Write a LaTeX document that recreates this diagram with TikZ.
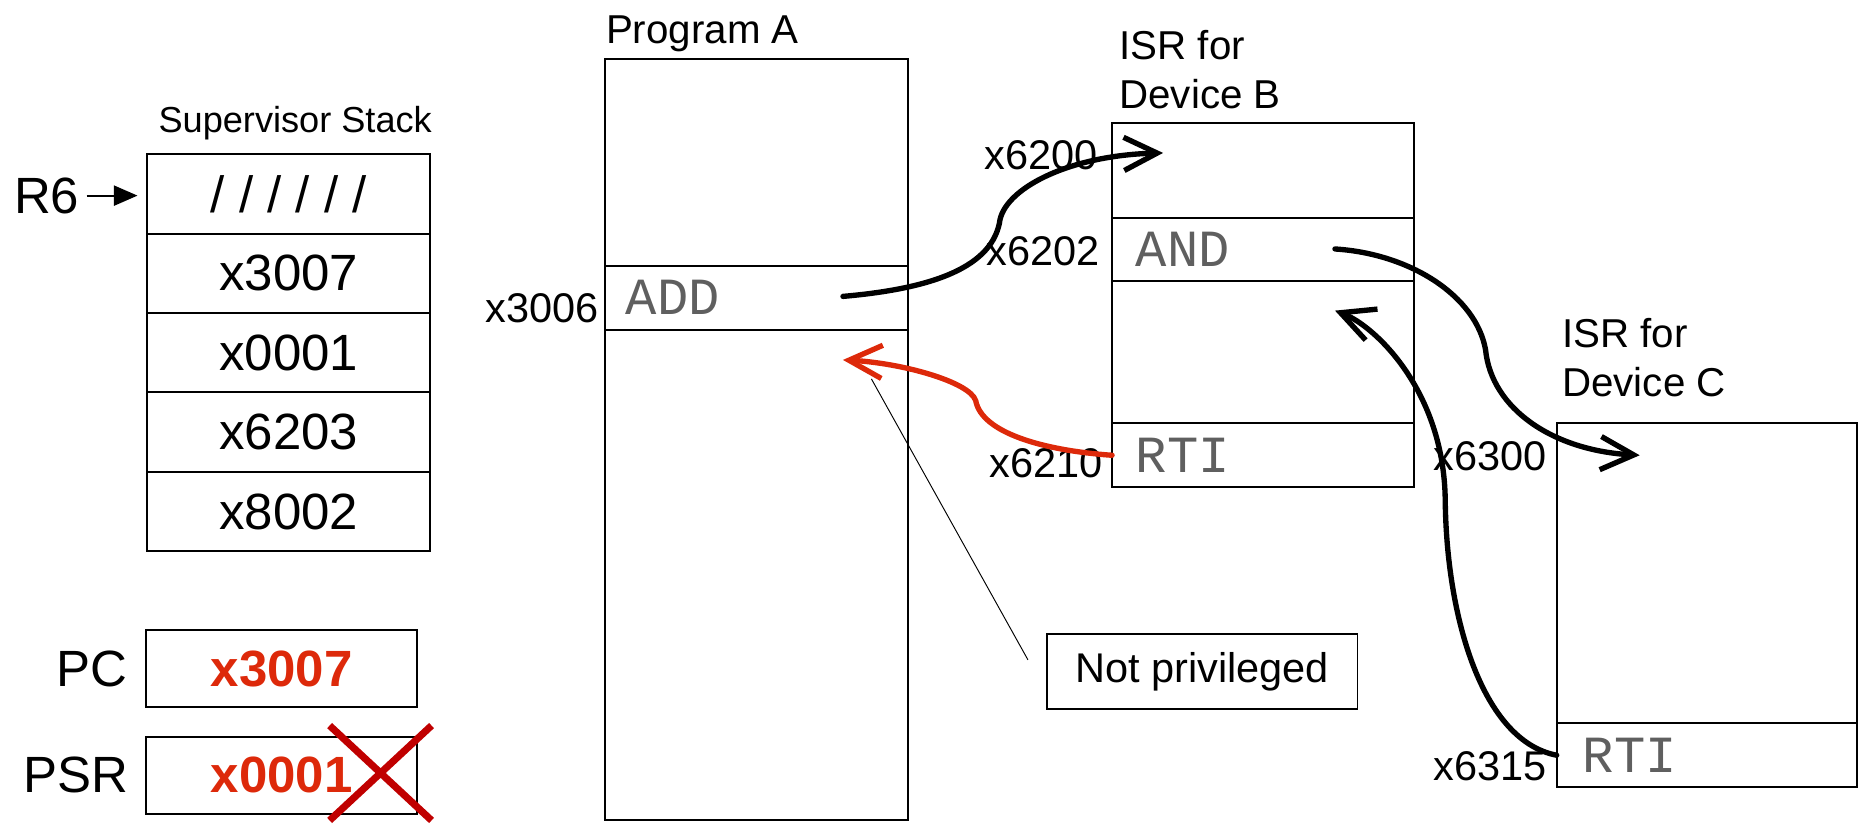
\documentclass[tikz,border=0pt]{standalone}
\usepackage{fontspec}
\setmainfont{Liberation Sans}
\newfontfamily\monofont{Liberation Mono}
\usepackage{xcolor}
\usetikzlibrary{arrows.meta, positioning, calc}

\definecolor{rosso}{RGB}{221,41,10}
\definecolor{rossoscuro}{RGB}{192,0,0}
\definecolor{grigio}{RGB}{95,95,95}

\tikzset{
    cella/.style={draw, line width=1.6pt, outer sep=0pt, inner sep=0pt, minimum width=239pt, minimum height=67pt, font=\fontsize{43}{50}\selectfont},
    registro/.style={cella, minimum width=228pt, minimum height=65pt, text=rosso, font=\fontsize{43}{50}\selectfont\bfseries},
    riga/.style={draw, line width=1.6pt, outer sep=0pt, inner ysep=0pt, inner xsep=18pt, text width=220pt, minimum height=#1, align=left, text=grigio, font=\fontsize{44}{50}\monofont},
    indirizzo/.style={inner sep=0pt, anchor=east, font=\fontsize{35}{42}\selectfont},
    titolo/.style={inner sep=0pt, anchor=base west, align=left, font=\fontsize{34}{41.5}\selectfont},
    salto/.style={line width=4.5pt, line cap=round, line join=round, -{Straight Barb[length=28pt, width=28pt]}},
}

\begin{document}
\begin{tikzpicture}[x=1pt, y=-1pt]
    \useasboundingbox (0,0) rectangle (1568,695);

    % Supervisor Stack
    \node[inner sep=0pt, anchor=base, font=\fontsize{30.5}{36}\selectfont] (tstack) at (249,112) {Supervisor Stack};
    \node[cella] (s0) at (243.5,163.5) {/ / / / / /};
    \foreach \v [count=\i, remember=\i as \j (initially 0)] in {x3007,x0001,x6203,x8002} {
        \node[cella, below=0pt of s\j] (s\i) {\v};
    }
    \node[inner sep=0pt, anchor=east, font=\fontsize{43}{50}\selectfont] (r6) at (67,165) {R6};
    \draw[line width=1.6pt, -{Triangle[length=20pt, width=17pt]}, shorten <=6pt, shorten >=8pt] (r6.east) -- (r6.east -| s0.west);

    % Registri PC e PSR
    \node[registro] (pc) at (237.5,564) {x3007};
    \node[registro] (psr) at (237.5,654) {x0001};
    \node[inner sep=0pt, left=16pt of pc, font=\fontsize{43}{50}\selectfont] (lpc) {PC};
    \node[inner sep=0pt, left=15pt of psr, font=\fontsize{43}{50}\selectfont] (lpsr) {PSR};
    \coordinate (croce) at ($(psr.east)+(-30.5,-2)$);
    \draw[rossoscuro, line width=6pt] ($(croce)+(-43,-40)$) -- ($(croce)+(43,40)$)
        ($(croce)+(43,-40)$) -- ($(croce)+(-43,40)$);

    % Program A
    \node[titolo] (tprog) at (511,36.5) {Program A};
    \node[riga=174pt] (a1) at (638,137) {};
    \node[riga=54pt, below=0pt of a1] (a2) {ADD};
    \node[riga=414pt, below=0pt of a2] (a3) {};
    \node[indirizzo] (la2) at ($(a2.west)+(-5,9)$) {x3006};

    % ISR per Device B
    \node[titolo] (tisrb) at (944,91.5) {ISR for\\Device B};
    \node[riga=80pt, inner xsep=20pt, text width=215pt] (b1) at (1065.5,144) {};
    \node[riga=53pt, inner xsep=20pt, text width=215pt, below=0pt of b1] (b2) {AND};
    \node[riga=120pt, inner xsep=20pt, text width=215pt, below=0pt of b2] (b3) {};
    \node[riga=54pt, inner xsep=20pt, text width=215pt, below=0pt of b3] (b4) {RTI};
    \node[indirizzo] (lb1) at ($(b1.west)+(-12,-13)$) {x6200};
    \node[indirizzo] (lb2) at ($(b2.west)+(-10,1.5)$) {x6202};
    \node[indirizzo] (lb4) at ($(b4.west)+(-8,7)$) {x6210};

    % ISR per Device C
    \node[titolo] (tisrc) at (1317.5,334.5) {ISR for\\Device C};
    \node[riga=253pt, inner xsep=22pt, text width=209pt] (c1) at (1439.5,483.5) {};
    \node[riga=54pt, inner xsep=22pt, text width=209pt, below=0pt of c1] (c2) {RTI};
    \node[indirizzo] (lc1) at ($(c1.north west)+(-8,28)$) {x6300};
    \node[indirizzo] (lc2) at ($(c2.west)+(-8,9)$) {x6315};

    % Nota
    \node[draw, line width=1.6pt, outer sep=0pt, inner sep=0pt, minimum width=262pt, minimum height=63pt, font=\fontsize{35}{42}\selectfont] (np) at (1014,566.5) {Not privileged};

    % Salti (frecce)
    \coordinate (addout) at ($(a2.east)+(-55,-1)$);
    \coordinate (b1in) at ($(b1.west)+(43,-15)$);
    \coordinate (andout) at ($(b2.east)+(-67,-0.5)$);
    \coordinate (c1in) at ($(c1.north west)+(70,27)$);
    \coordinate (b3in) at ($(b3.east)+(-67,-35)$);
    \coordinate (a3in) at ($(a3.north east)+(-55,25.6)$);
    \draw[salto] (addout) .. controls (780,244) and (835,228) .. (843,188)
        .. controls (846,160) and (900,131) .. (b1in);
    \draw[salto] (andout) .. controls (1190,214) and (1245,250) .. (1253,295)
        .. controls (1258,345) and (1310,380) .. (c1in);
    \draw[salto] (c2.west) .. controls (1250,625) and (1220,520) .. (1219,422)
        .. controls (1218,330) and (1160,275) .. (b3in);
    \draw[salto, rosso] (b4.west) .. controls (880,380) and (828,365) .. (823,338)
        .. controls (818,322) and (760,306) .. (a3in);

    % Linea della nota
    \coordinate (nota1) at ($(a3in)+(24,16)$);
    \coordinate (nota2) at ($(np.west)+(-16,-10)$);
    \draw[line width=0.8pt] (nota1) -- (nota2);
\end{tikzpicture}
\end{document}
